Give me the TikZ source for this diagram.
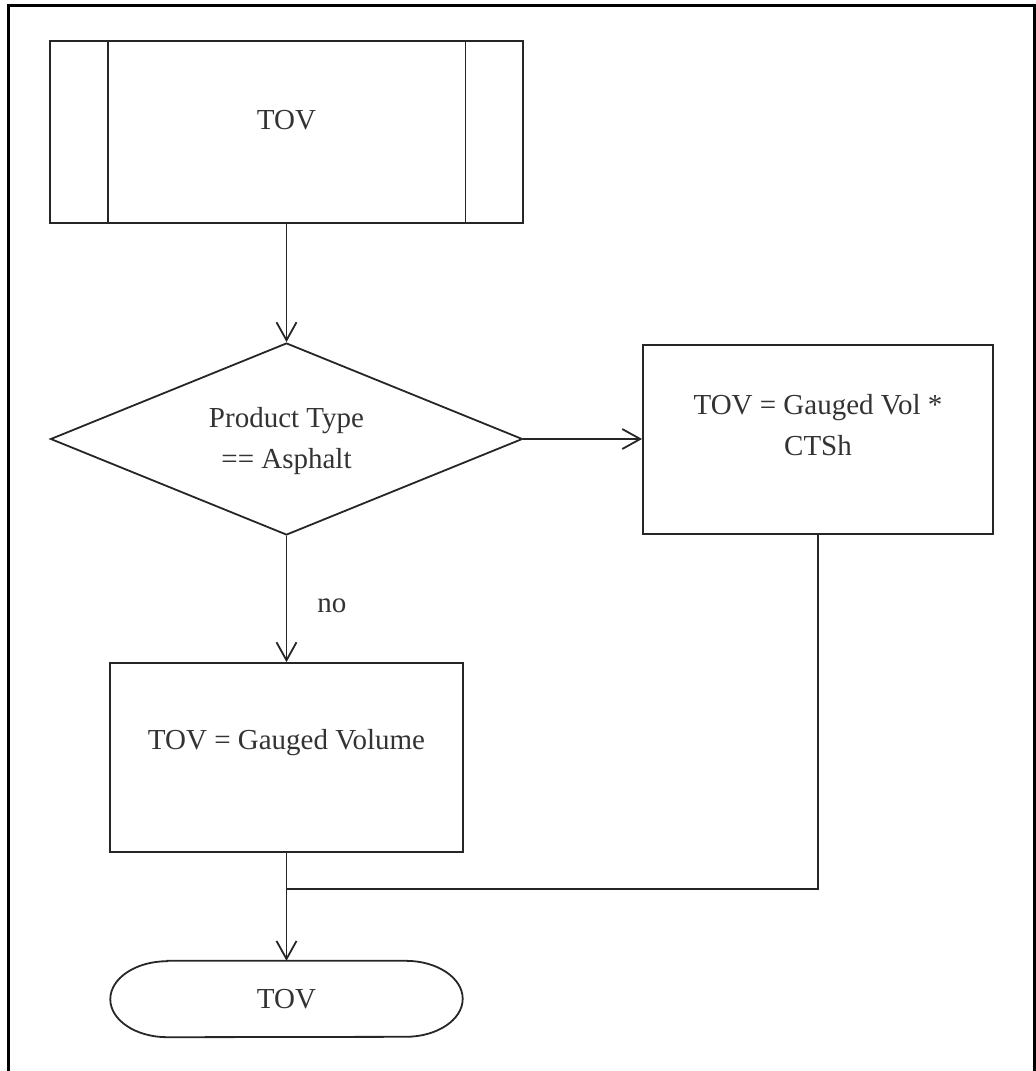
\documentclass[tikz,border=0pt]{standalone}
\usepackage{fontspec}
\setmainfont{Liberation Serif}
\usetikzlibrary{arrows.meta,shapes.geometric}
\definecolor{linec}{HTML}{262626}
\definecolor{textc}{HTML}{333333}
\tikzset{
  box/.style={draw=linec, line width=1.8pt, inner sep=0pt},
  lbl/.style={text=textc, font=\fontsize{29}{41}\selectfont, align=center, inner sep=0pt},
  conn/.style={draw=linec, line width=1.8pt},
  arr/.style={conn, -{Straight Barb[length=18pt, width=20pt, line width=1.8pt]}},
}
\begin{document}
\begin{tikzpicture}[x=1pt, y=-1pt]
\useasboundingbox (0,0) rectangle (1036,1071);
% outer frame
\draw[line width=3pt, black] (8,1075) -- (8,5) -- (1034,5) -- (1034,1075);
% predefined process
\node[box, minimum width=473pt, minimum height=182pt] (proc) at (286.5,132) {};
\draw[conn] ([xshift=58.5pt]proc.north west) -- ([xshift=58.5pt]proc.south west);
\draw[conn] ([xshift=-58.5pt]proc.north east) -- ([xshift=-58.5pt]proc.south east);
\node[lbl] (proctxt) at (286.5,120) {TOV};
% decision
\node[box, diamond, aspect=2.46, minimum width=472pt, minimum height=192pt] (dec) at (286.5,439) {};
\node[lbl] (dectxt) at (286.5,441) {Product Type\\== Asphalt};
% right box
\node[box, minimum width=350pt, minimum height=189pt] (box2) at (818,439.5) {};
\node[lbl] (box2txt) at (818,425) {TOV = Gauged Vol *\\CTSh};
% left box
\node[box, minimum width=353pt, minimum height=189pt] (box1) at (286.5,757.5) {};
\node[lbl] (box1txt) at (286.5,743) {TOV = Gauged Volume};
% terminal
\node[inner sep=0pt, minimum width=352pt, minimum height=76pt] (term) at (286.5,999) {};
\draw[conn] ([xshift=57pt]term.north west) -- ([xshift=-57pt]term.north east)
  arc[start angle=90, end angle=-90, x radius=57pt, y radius=38pt]
  -- ([xshift=57pt]term.south west)
  arc[start angle=270, end angle=90, x radius=57pt, y radius=38pt] -- cycle;
\node[lbl] (termtxt) at (286.5,999) {TOV};
% connectors
\draw[arr] (proc.south) -- (dec.north);
\draw[arr] (dec.east) -- (box2.west |- dec.east);
\draw[arr] (dec.south) -- node[lbl, right, xshift=30pt, pos=0.55] (nolbl) {no} (box1.north);
\coordinate (merge) at (286.5,889);
\draw[conn] (box2.south) |- (merge);
\draw[arr] (box1.south) -- (term.north);
\end{tikzpicture}
\end{document}
